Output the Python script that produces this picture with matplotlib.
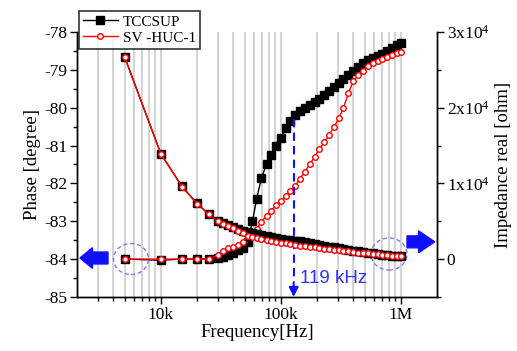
import numpy as np
import matplotlib
matplotlib.use('Agg')
import matplotlib.pyplot as plt
from matplotlib.patches import Ellipse, FancyArrow
from matplotlib.ticker import FixedLocator, NullFormatter

plt.rcParams['font.family'] = 'Liberation Serif'
plt.rcParams['mathtext.default'] = 'regular'
plt.rcParams['axes.unicode_minus'] = False

# frequency points [Hz]
freq = [5e3, 10e3, 15e3, 20e3, 25e3, 30e3, 33e3, 36e3, 40e3, 44e3, 48e3,
        53e3, 58e3, 63e3, 69e3, 76e3, 83e3, 91e3, 100e3, 110e3, 120e3,
        131e3, 144e3, 158e3, 174e3, 191e3, 209e3, 230e3, 252e3, 277e3, 304e3,
        333e3, 366e3, 402e3, 441e3, 484e3, 531e3, 583e3, 640e3, 702e3, 771e3,
        846e3, 929e3, 1000e3]

# phase [degree]
phase_tccsup = [-84.0, -84.03, -84.0, -84.0, -84.0, -83.98, -83.95, -83.9, -83.84, -83.77, -83.7,
                -83.55, -83.0, -82.4, -81.85, -81.5, -81.25, -81.0, -80.8, -80.55, -80.35,
                -80.2, -80.08, -80.0, -79.93, -79.85, -79.77, -79.67, -79.57, -79.46, -79.35,
                -79.25, -79.13, -79.02, -78.92, -78.83, -78.75, -78.69, -78.63, -78.57, -78.5,
                -78.42, -78.35, -78.3]
phase_svhuc = [-84.0, -84.0, -84.0, -84.0, -84.0, -83.9, -83.78, -83.72, -83.68, -83.63, -83.55,
               -83.4, -83.3, -83.2, -83.02, -82.85, -82.72, -82.58, -82.47, -82.33, -82.2,
               -82.08, -81.88, -81.7, -81.5, -81.3, -81.1, -80.92, -80.72, -80.52, -80.28,
               -80.0, -79.62, -79.3, -79.15, -79.02, -78.9, -78.82, -78.76, -78.71, -78.66,
               -78.61, -78.56, -78.52]

# impedance real part [ohm]
zreal_tccsup = [26650, 13900, 9600, 7350, 5950, 5050, 4750, 4500, 4200, 3950, 3750,
                3550, 3400, 3250, 3120, 3000, 2900, 2780, 2680, 2580, 2490,
                2420, 2340, 2240, 2130, 2020, 1900, 1780, 1660, 1540, 1430,
                1320, 1210, 1110, 1010, 910, 830, 750, 670, 600, 530,
                460, 400, 350]
zreal_svhuc = [26650, 13900, 9560, 7340, 5940, 5000, 4700, 4350, 4050, 3700, 3400,
               3100, 2900, 2750, 2600, 2480, 2370, 2260, 2160, 2060, 1970,
               1880, 1780, 1700, 1620, 1540, 1460, 1380, 1300, 1230, 1150,
               1080, 1010, 940, 870, 800, 740, 680, 620, 570, 520,
               470, 430, 400]

xticks = [1e4, 1e5, 1e6]
xtick_labels = ['10k', '100k', '1M']
phase_ticks = [-85, -84, -83, -82, -81, -80, -79, -78]
z_ticks = [0, 1e4, 2e4, 3e4]
z_tick_labels = ['0', '1x10$^4$', '2x10$^4$', '3x10$^4$']
f_marker = 128e3

fig = plt.figure(figsize=(5.17, 3.51), dpi=100)
ax = fig.add_axes([0.149, 0.154, 0.696, 0.755])
ax2 = ax.twinx()

ax.set_xscale('log')
ax.set_xlim(2000, 2e6)
ax.set_ylim(-85, -78)
ax2.set_ylim(-5000, 30000)

minor_x = [m * 10**e for e in range(3, 7) for m in range(2, 10) if 2000 < m * 10**e < 2e6]
ax.xaxis.set_minor_locator(FixedLocator(minor_x))
ax.xaxis.set_minor_formatter(NullFormatter())
ax.set_xticks(xticks)
ax.set_xticklabels(xtick_labels)
for xv in minor_x + xticks:
    ax.axvline(xv, color='#d3d3d3', lw=1.4, zorder=0)

ax.set_yticks(phase_ticks)
ax.set_yticks(np.arange(-85, -77.9, 0.5), minor=True)
ax2.set_yticks(z_ticks)
ax2.set_yticklabels(z_tick_labels)
ax2.set_yticks(np.arange(-5000, 30001, 5000), minor=True)

for a in (ax, ax2):
    a.spines['top'].set_visible(False)
    for s in a.spines.values():
        s.set_linewidth(1.0)
    a.tick_params(which='major', direction='out', length=5, width=1, labelsize=12.5, pad=2)
    a.tick_params(which='minor', direction='out', length=3, width=1)

# phase curves (left axis)
ax.plot(freq, phase_tccsup, '-', color='black', lw=1, marker='s', ms=5.3,
        mfc='black', mec='black', zorder=3)
ax.plot(freq, phase_svhuc, '-', color='red', lw=1, marker='o', ms=4,
        mfc='white', mec='red', mew=1, zorder=4)

# impedance curves (right axis)
l1, = ax2.plot(freq, zreal_tccsup, '-', color='black', lw=1, marker='s', ms=5.3,
               mfc='black', mec='black', zorder=3, label='TCCSUP')
l2, = ax2.plot(freq, zreal_svhuc, '-', color='red', lw=1, marker='o', ms=4,
               mfc='white', mec='red', mew=1, zorder=4, label='SV -HUC-1')

ax.set_xlabel('Frequency[Hz]', fontsize=13.5, labelpad=1)
ax.set_ylabel('Phase [degree]', fontsize=13.5, labelpad=2)
ax2.set_ylabel('Impedance real [ohm]', fontsize=13.5, labelpad=4)

# marker at 119 kHz
ax.plot([f_marker, f_marker], [-80.3, -84.6], color='#1010ff', lw=1.5, ls=(0, (4, 2.5)), zorder=5)
ax.annotate('', xy=(f_marker, -85), xytext=(f_marker, -84.62),
            arrowprops=dict(arrowstyle='-|>', color='#1010ff', lw=1.5,
                            mutation_scale=14, shrinkA=0, shrinkB=0), zorder=5)
ax.text(f_marker * 1.12, -84.52, '119 kHz', color='#3030ff', fontsize=13.5,
        family='Liberation Sans', va='center', ha='left', zorder=5)

# dashed circles and side arrows
ax.add_patch(Ellipse((0.15, 0.143), 0.097, 0.117, transform=ax.transAxes, fill=False,
                     ec='#7a7aff', lw=1, ls=(0, (3, 2)), zorder=5))
ax.add_patch(Ellipse((0.867, 0.162), 0.1, 0.121, transform=ax.transAxes, fill=False,
                     ec='#7a7aff', lw=1, ls=(0, (3, 2)), zorder=5))
ax.add_patch(FancyArrow(0.086, 0.147, -0.078, 0, width=0.045, head_width=0.078,
                        head_length=0.035, length_includes_head=True, color='#1010ff',
                        transform=ax.transAxes, zorder=5, clip_on=False))
ax.add_patch(FancyArrow(0.917, 0.208, 0.077, 0, width=0.045, head_width=0.083,
                        head_length=0.045, length_includes_head=True, color='#1010ff',
                        transform=ax.transAxes, zorder=5, clip_on=False))

leg = fig.legend(handles=[l1, l2], loc='upper left', bbox_to_anchor=(0.153, 0.968),
                 fontsize=11, frameon=True, fancybox=False, handlelength=2.3,
                 borderpad=0.25, labelspacing=0.15, handletextpad=0.3, borderaxespad=0)
leg.get_frame().set_edgecolor('black')
leg.get_frame().set_linewidth(1.2)

fig.savefig('out.png', dpi=100)
